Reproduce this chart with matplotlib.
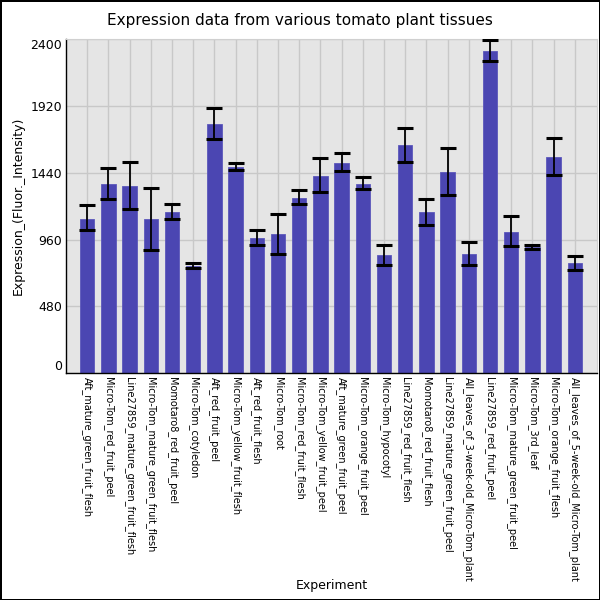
import matplotlib
matplotlib.use("Agg")
import matplotlib.pyplot as plt
import numpy as np

categories = [
    "Aft_mature_green_fruit_flesh", "Micro-Tom_red_fruit_peel",
    "Line27859_mature_green_fruit_flesh", "Micro-Tom_mature_green_fruit_flesh",
    "Momotaro8_red_fruit_peel", "Micro-Tom_cotyledon", "Aft_red_fruit_peel",
    "Micro-Tom_yellow_fruit_flesh", "Aft_red_fruit_flesh", "Micro-Tom_root",
    "Micro-Tom_red_fruit_flesh", "Micro-Tom_yellow_fruit_peel",
    "Aft_mature_green_fruit_peel", "Micro-Tom_orange_fruit_peel",
    "Micro-Tom_hypocotyl", "Line27859_red_fruit_flesh",
    "Momotaro8_red_fruit_flesh", "Line27859_mature_green_fruit_peel",
    "All_leaves_of_3-week-old_Micro-Tom_plant", "Line27859_red_fruit_peel",
    "Micro-Tom_mature_green_fruit_peel", "Micro-Tom_3rd_leaf",
    "Micro-Tom_orange_fruit_flesh", "All_leaves_of_5-week-old_Micro-Tom_plant",
]
values = [1106, 1357, 1343, 1106, 1156, 768, 1788, 1479, 970, 998, 1257, 1415,
          1508, 1357, 847, 1637, 1156, 1444, 855, 2313, 1013, 905, 1551, 790]
err_hi = [1207, 1477, 1518, 1331, 1216, 788, 1908, 1508, 1025, 1144, 1314, 1544,
          1582, 1410, 921, 1760, 1248, 1614, 941, 2392, 1130, 921, 1690, 842]
err_lo = [1025, 1250, 1178, 886, 1104, 754, 1683, 1456, 921, 855, 1214, 1300,
          1451, 1321, 778, 1520, 1065, 1281, 776, 2243, 910, 891, 1422, 742]
yticks = [0, 480, 960, 1440, 1920, 2400]

vals = np.array(values)
yerr = np.vstack([vals - np.array(err_lo), np.array(err_hi) - vals])

fig = plt.figure(figsize=(6, 6), dpi=100)
fig.patch.set_edgecolor("black")
fig.patch.set_linewidth(2)
ax = fig.add_axes([0.11, 0.378, 0.885, 0.557])
ax.set_facecolor("#e5e5e5")
x = np.arange(len(categories))
ax.bar(x, vals, width=0.675, color="#4b46b2", edgecolor="#5c57bb", linewidth=0.6, zorder=2)
ax.errorbar(x, vals, yerr=yerr, fmt="none", ecolor="black", elinewidth=1.3,
            capsize=6, capthick=2.2, zorder=3)
ax.set_xlim(-1.0, 24.05)
ax.set_ylim(0, 2400)
ax.set_yticks(yticks)
ylabels = ax.set_yticklabels([str(t) for t in yticks])
ylabels[0].set_verticalalignment("bottom")
ylabels[-1].set_verticalalignment("top")
ax.set_xticks(x)
ax.set_xticklabels(categories, rotation=270, fontsize=7, va="top", ha="center")
ax.tick_params(axis="both", length=0, pad=3)
ax.tick_params(axis="y", labelsize=9)
ax.grid(True, color="#c8c8c8", linewidth=1, zorder=0)
ax.set_axisbelow(True)
for s in ["top", "right"]:
    ax.spines[s].set_color("#d0d0d0")
    ax.spines[s].set_linewidth(0.8)
for s in ["left", "bottom"]:
    ax.spines[s].set_color("black")
    ax.spines[s].set_linewidth(1)
ax.set_ylabel("Expression_(Fluor._Intensity)", fontsize=9)
fig.text(0.553, 0.025, "Experiment", ha="center", va="center", fontsize=9)
fig.text(0.5, 0.966, "Expression data from various tomato plant tissues",
         ha="center", va="center", fontsize=11)
fig.savefig("out.png", dpi=100, edgecolor=fig.get_edgecolor())
